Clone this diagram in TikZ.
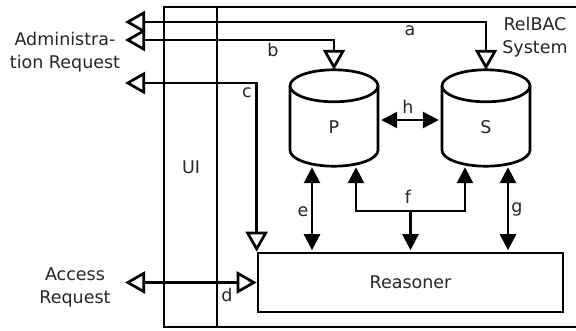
\documentclass[tikz,border=0pt]{standalone}
\usepackage{fontspec}
\setmainfont{DejaVu Sans}
\usetikzlibrary{arrows.meta,calc}
\begin{document}
\begin{tikzpicture}[x=1pt,y=-1pt,
  every node/.style={font=\fontsize{17.5}{23}\selectfont, text=black!85},
  ln/.style={line width=2.7pt, line join=miter},
  oo/.style={ln, arrows={Triangle[open,length=20pt,width=22pt]-Triangle[open,length=20pt,width=22pt]}},
  ff/.style={ln, arrows={Triangle[length=16pt,width=16pt]-Triangle[length=16pt,width=16pt]}},
  fend/.style={ln, arrows={-Triangle[length=16pt,width=16pt]}},
  cylbox/.style={draw=none, minimum width=88pt, minimum height=96pt, inner sep=0pt},
  lbl/.style={inner sep=0pt},
]
\useasboundingbox (0,0) rectangle (576,330);
\fill[white] (0,0) rectangle (576,330);
\clip (0,0) rectangle (576,330);

% system frame and UI column
\draw[ln] (590,7) -- (164,7) -- (164,327) -- (590,327);
\draw[ln] (217,7) -- (217,327);

% nodes
\node[cylbox] (P) at (334,118) {};
\node[cylbox] (S) at (486,118) {};
\node[ln, draw, minimum width=305pt, minimum height=59pt, inner sep=0pt] (R) at (410.5,282.5) {Reasoner};

% cylinders
\foreach \c in {P,S}{
  \draw[ln] ($(\c.north)+(0,16)$) ellipse [x radius=44pt, y radius=16pt];
  \draw[ln] ($(\c.north)+(-44,16)$) -- ($(\c.south)+(-44,-16)$)
     arc[start angle=180, end angle=360, x radius=44pt, y radius=16pt]
     -- ($(\c.north)+(44,16)$);
}
\node[lbl] (Pl) at ($(P.center)+(0,9)$) {P};
\node[lbl] (Sl) at ($(S.center)+(0,9)$) {S};

% texts
\node[lbl, align=center] (adm) at (65,52) {Administra-\\tion Request};
\node[lbl, align=center] (acc) at (75,287) {Access\\Request};
\node[lbl, align=center] (sys) at (535,37) {RelBAC\\System};
\node[lbl] (ui) at (191,167) {UI};

% free ends
\coordinate (aL) at (125,22);
\coordinate (bL) at (125,40);
\coordinate (cL) at (125,83);
\coordinate (dL) at (125,282.5);

% connectors a-d
\draw[oo] (aL) -| (S.north);
\draw[oo] (bL) -| (P.north);
\draw[oo] (cL) -| (R.north west);
\draw[oo] (dL) -- (dL -| R.west);

% e, f, g
\coordinate (eT) at ($(P.south)+(-22,1)$);
\coordinate (fL) at ($(P.south)+(22,1)$);
\coordinate (fR) at ($(S.south)+(-21,1)$);
\coordinate (gT) at ($(S.south)+(22,1)$);
\coordinate (fM) at (R.north |- 0,211);
\draw[ff, shorten >=1.5pt] (eT) -- (eT |- R.north);
\draw[ff] (fL) |- (fM) -| (fR);
\draw[fend, shorten >=1.5pt] (fM) -- (R.north);
\draw[ff, shorten >=1.5pt] (gT) -- (gT |- R.north);

% h
\draw[ff] ($(P.east)+(3,2)$) -- ($(S.west)+(-3,2)$);

% labels
\node[lbl] (la) at (410,31) {a};
\node[lbl] (lb) at (273,50) {b};
\node[lbl] (lc) at (247,93) {c};
\node[lbl] (ld) at (227,295) {d};
\node[lbl] (le) at (303,212) {e};
\node[lbl] (lf) at (408,197) {f};
\node[lbl] (lg) at (517,209) {g};
\node[lbl] (lh) at (408,107) {h};
\end{tikzpicture}
\end{document}
